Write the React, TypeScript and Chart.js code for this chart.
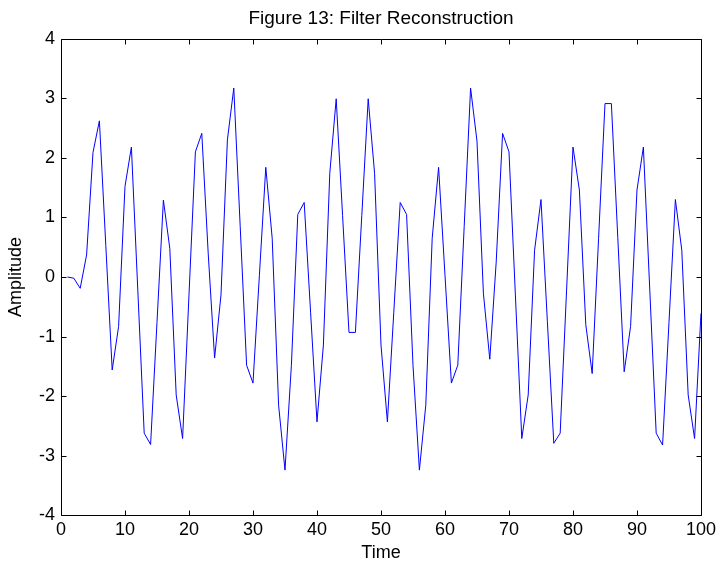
import React, { useEffect, useRef } from "react";
import { Chart, registerables } from "chart.js";

Chart.register(...registerables);

const TITLE = "Figure 13: Filter Reconstruction";
const X_LABEL = "Time";
const Y_LABEL = "Amplitude";

const TIME = [
  1, 2, 3, 4, 5, 6, 7, 8, 9, 10,
  11, 12, 13, 14, 15, 16, 17, 18, 19, 20,
  21, 22, 23, 24, 25, 26, 27, 28, 29, 30,
  31, 32, 33, 34, 35, 36, 37, 38, 39, 40,
  41, 42, 43, 44, 45, 46, 47, 48, 49, 50,
  51, 52, 53, 54, 55, 56, 57, 58, 59, 60,
  61, 62, 63, 64, 65, 66, 67, 68, 69, 70,
  71, 72, 73, 74, 75, 76, 77, 78, 79, 80,
  81, 82, 83, 84, 85, 86, 87, 88, 89, 90,
  91, 92, 93, 94, 95, 96, 97, 98, 99, 100,
];

const AMPLITUDE = [
  0.0, -0.02, -0.19, 0.37, 2.09, 2.62, 0.53, -1.56, -0.83, 1.52,
  2.18, -0.22, -2.62, -2.81, -0.76, 1.29, 0.48, -1.98, -2.71, -0.3,
  2.1, 2.41, 0.4, -1.36, -0.3, 2.3, 3.17, 0.85, -1.48, -1.78,
  0.03, 1.84, 0.65, -2.15, -3.24, -1.48, 1.05, 1.25, -0.59, -2.43,
  -1.14, 1.74, 2.99, 1.03, -0.93, -0.93, 1.03, 2.99, 1.74, -1.14,
  -2.43, -0.59, 1.25, 1.05, -1.48, -3.24, -2.15, 0.65, 1.84, 0.03,
  -1.78, -1.48, 0.85, 3.17, 2.28, -0.27, -1.38, 0.25, 2.41, 2.1,
  -0.3, -2.71, -1.98, 0.45, 1.3, -0.75, -2.79, -2.62, -0.22, 2.18,
  1.46, -0.8, -1.62, 0.65, 2.91, 2.91, 0.66, -1.59, -0.83, 1.46,
  2.18, -0.22, -2.62, -2.82, -0.76, 1.3, 0.45, -1.98, -2.71, -0.61,
];

const X_TICKS = [0, 10, 20, 30, 40, 50, 60, 70, 80, 90, 100];
const Y_TICKS = [-4, -3, -2, -1, 0, 1, 2, 3, 4];

const FONT = "'Liberation Sans', Arial, Helvetica, sans-serif";

const framePlugin = {
  id: "matlabFrame",
  afterDraw(chart: any) {
    const { ctx, chartArea } = chart;
    const { left, right, top, bottom } = chartArea;
    const xs = chart.scales.x;
    const ys = chart.scales.y;
    const tl = 5;
    ctx.save();
    ctx.strokeStyle = "#000";
    ctx.lineWidth = 1;
    ctx.beginPath();
    const L = Math.round(left) + 0.5;
    const R = Math.round(right) + 0.5;
    const T = Math.round(top) + 0.5;
    const B = Math.round(bottom) + 0.5;
    ctx.rect(L, T, R - L, B - T);
    X_TICKS.forEach((v) => {
      const px = Math.round(xs.getPixelForValue(v)) + 0.5;
      ctx.moveTo(px, B);
      ctx.lineTo(px, B - tl);
      ctx.moveTo(px, T);
      ctx.lineTo(px, T + tl);
    });
    Y_TICKS.forEach((v) => {
      const py = Math.round(ys.getPixelForValue(v)) + 0.5;
      ctx.moveTo(L, py);
      ctx.lineTo(L + tl, py);
      ctx.moveTo(R, py);
      ctx.lineTo(R - tl, py);
    });
    ctx.stroke();
    // title centred over the plot area
    ctx.fillStyle = "#000";
    ctx.font = `19px ${FONT}`;
    ctx.textAlign = "center";
    ctx.textBaseline = "middle";
    ctx.fillText(TITLE, (left + right) / 2, 19);
    ctx.restore();
  },
};

export default function App() {
  const ref = useRef<HTMLCanvasElement | null>(null);

  useEffect(() => {
    if (!ref.current) return;
    const chart = new Chart(ref.current, {
      type: "line",
      data: {
        datasets: [
          {
            data: TIME.map((t, i) => ({ x: t, y: AMPLITUDE[i] })),
            borderColor: "#0000ff",
            borderWidth: 1,
            pointRadius: 0,
            tension: 0,
            fill: false,
          },
        ],
      },
      options: {
        responsive: false,
        animation: false,
        layout: { padding: { left: 0, right: 17, top: 38.6, bottom: 0 } },
        plugins: {
          legend: { display: false },
          tooltip: { enabled: false },
          title: { display: false },
        },
        scales: {
          x: {
            type: "linear",
            min: 0,
            max: 100,
            afterBuildTicks: (s: any) => {
              s.ticks = X_TICKS.map((v) => ({ value: v }));
            },
            afterFit: (s: any) => {
              s.height = 49.6;
            },
            grid: { display: false, drawTicks: false },
            border: { display: false },
            ticks: {
              color: "#000",
              maxRotation: 0,
              autoSkip: false,
              padding: 4,
              font: { family: FONT, size: 18 },
            },
            title: {
              display: true,
              text: X_LABEL,
              color: "#000",
              font: { family: FONT, size: 18 },
              padding: { top: 0, bottom: 1 },
            },
          },
          y: {
            type: "linear",
            min: -4,
            max: 4,
            afterBuildTicks: (s: any) => {
              s.ticks = Y_TICKS.map((v) => ({ value: v }));
            },
            afterFit: (s: any) => {
              s.width = 61;
            },
            grid: { display: false, drawTicks: false },
            border: { display: false },
            ticks: {
              color: "#000",
              autoSkip: false,
              padding: 6,
              font: { family: FONT, size: 18 },
            },
            title: {
              display: true,
              text: Y_LABEL,
              color: "#000",
              font: { family: FONT, size: 18 },
              padding: { top: 5, bottom: 0 },
            },
          },
        },
      },
      plugins: [framePlugin],
    });
    return () => chart.destroy();
  }, []);

  return (
    <div style={{ position: "fixed", left: 0, top: 0, width: 720, height: 565, background: "#fff" }}>
      <canvas ref={ref} width={720} height={565} style={{ display: "block" }} />
    </div>
  );
}
